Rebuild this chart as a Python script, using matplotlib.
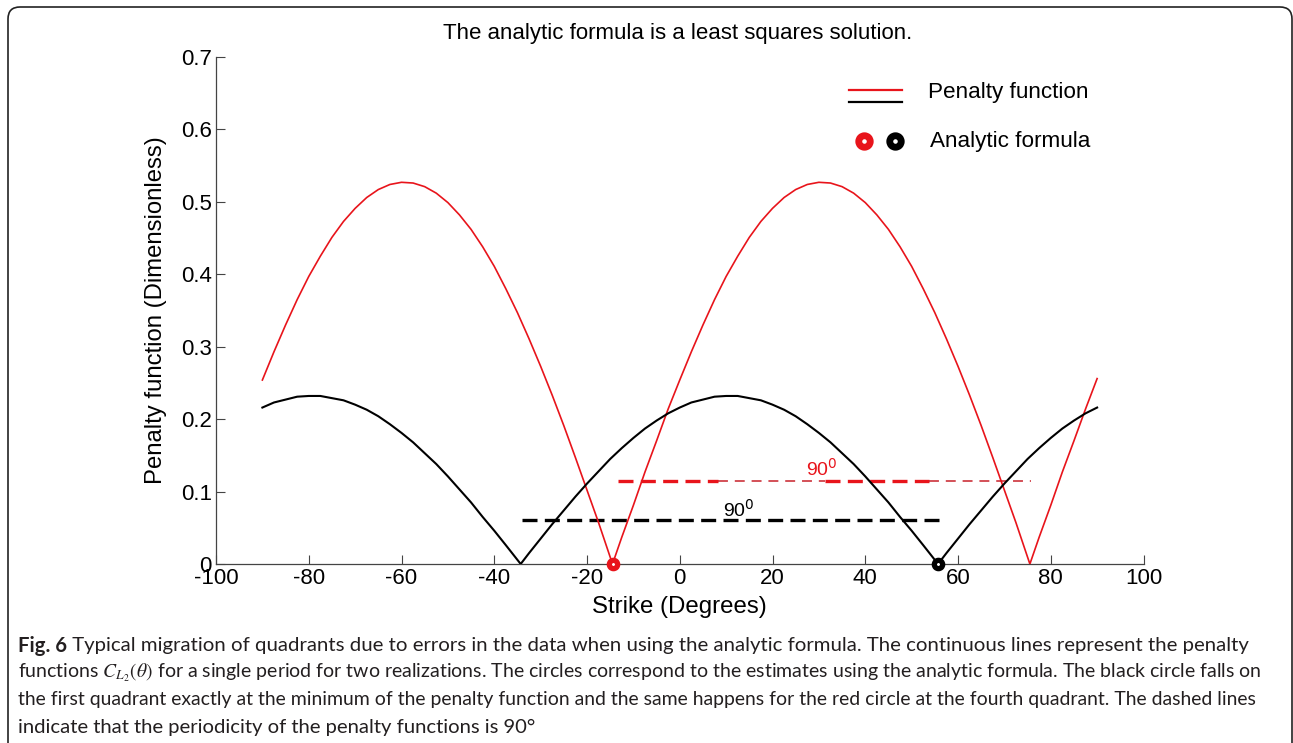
import matplotlib.pyplot as plt
from matplotlib.lines import Line2D
from matplotlib.patches import FancyBboxPatch
from matplotlib.transforms import IdentityTransform

# strike angle (degrees) and penalty values for the two realizations
strike_red = [-90, -87.5, -85, -82.5, -80, -77.5, -75, -72.5, -70, -67.5, -65, -62.5, -60,
              -57.5, -55, -52.5, -50, -47.5, -45, -42.5, -40, -37.5, -35, -32.5, -30, -27.5,
              -25, -22.5, -20, -17.5, -14.5, -12.5, -10, -7.5, -5, -2.5, 0, 2.5, 5, 7.5, 10,
              12.5, 15, 17.5, 20, 22.5, 25, 27.5, 30, 32.5, 35, 37.5, 40, 42.5, 45, 47.5, 50,
              52.5, 55, 57.5, 60, 62.5, 65, 67.5, 70, 72.5, 75.5, 77.5, 80, 82.5, 85, 87.5, 90]
penalty_red = [0.254, 0.293, 0.330, 0.365, 0.397, 0.425, 0.451, 0.473, 0.491, 0.506, 0.517,
               0.524, 0.527, 0.526, 0.521, 0.512, 0.499, 0.482, 0.462, 0.438, 0.411, 0.380,
               0.347, 0.311, 0.273, 0.233, 0.191, 0.147, 0.102, 0.057, 0.0, 0.037, 0.081,
               0.127, 0.170, 0.214, 0.254, 0.293, 0.330, 0.365, 0.397, 0.425, 0.451, 0.473,
               0.491, 0.506, 0.517, 0.524, 0.527, 0.526, 0.521, 0.512, 0.499, 0.482, 0.462,
               0.438, 0.411, 0.380, 0.347, 0.311, 0.273, 0.233, 0.191, 0.147, 0.102, 0.057,
               0.0, 0.037, 0.081, 0.127, 0.170, 0.214, 0.256]

strike_black = [-90, -87.5, -85, -82.5, -80, -77.5, -75, -72.5, -70, -67.5, -65, -62.5, -60,
                -57.5, -55, -52.5, -50, -47.5, -45, -42.5, -40, -37.5, -34.3, -32.5, -30,
                -27.5, -25, -22.5, -20, -17.5, -15, -12.5, -10, -7.5, -5, -2.5, 0, 2.5, 5,
                7.5, 10, 12.5, 15, 17.5, 20, 22.5, 25, 27.5, 30, 32.5, 35, 37.5, 40, 42.5, 45,
                47.5, 50, 52.5, 55.7, 57.5, 60, 62.5, 65, 67.5, 70, 72.5, 75, 77.5, 80, 82.5,
                85, 87.5, 90]
penalty_black = [0.216, 0.223, 0.227, 0.231, 0.232, 0.232, 0.229, 0.226, 0.220, 0.213, 0.204,
                 0.193, 0.181, 0.168, 0.153, 0.138, 0.121, 0.103, 0.085, 0.065, 0.046, 0.026,
                 0.0, 0.015, 0.035, 0.055, 0.074, 0.093, 0.111, 0.128, 0.145, 0.160, 0.174,
                 0.187, 0.198, 0.208, 0.216, 0.223, 0.227, 0.231, 0.232, 0.232, 0.229, 0.226,
                 0.220, 0.213, 0.204, 0.193, 0.181, 0.168, 0.153, 0.138, 0.121, 0.103, 0.085,
                 0.065, 0.046, 0.026, 0.0, 0.015, 0.035, 0.055, 0.074, 0.093, 0.111, 0.128,
                 0.145, 0.160, 0.174, 0.187, 0.198, 0.208, 0.216]

# analytic formula estimates
analytic_red = -14.5
analytic_black = 55.7

# 90 degree period markers: start, end, level
period_red = (-13.3, 75.8, 0.115)
period_black = (-34.1, 56.3, 0.061)

plt.rcParams['font.family'] = 'Liberation Sans'
plt.rcParams['axes.unicode_minus'] = False

fig = plt.figure(figsize=(12.93, 7.43), dpi=100)
ax = fig.add_axes([216 / 1293, 1 - 564 / 743, (1143.5 - 216) / 1293, (564 - 57) / 743])

ax.plot(strike_red, penalty_red, color='#e8141b', lw=1.2, zorder=3)
ax.plot(strike_black, penalty_black, color='black', lw=1.5, zorder=3)

# red period line alternates thick and thin dashes
x0, x1, yr = period_red
cuts = [x0, 8.3, 31.4, 53.8, x1]
for i in range(4):
    thick = i % 2 == 0
    ax.plot([cuts[i], cuts[i + 1]], [yr, yr], color='#e8141b' if thick else '#c8202a',
            lw=2.4 if thick else 1.1, dashes=(4.5, 2.2) if thick else (6.5, 4.5), zorder=2)
ax.plot(period_black[:2], [period_black[2]] * 2, color='black', lw=2.4,
        dashes=(4.5, 2.2), zorder=2)

ax.text(30.7, 0.131, r'90$^0$', color='#e8141b', fontsize=14, ha='center', va='center')
ax.text(12.7, 0.075, r'90$^0$', color='black', fontsize=14, ha='center', va='center')

ax.plot([analytic_red], [0], 'o', ms=6, mfc='white', mec='#e8141b', mew=3.8, zorder=5,
        clip_on=False)
ax.plot([analytic_black], [0], 'o', ms=6, mfc='white', mec='black', mew=3.8, zorder=5,
        clip_on=False)

ax.set_xlim(-100, 100)
ax.set_ylim(0, 0.7)
ax.set_xticks(range(-100, 101, 20))
ax.set_yticks([0, 0.1, 0.2, 0.3, 0.4, 0.5, 0.6, 0.7])
ax.set_yticklabels(['0', '0.1', '0.2', '0.3', '0.4', '0.5', '0.6', '0.7'])
ax.tick_params(direction='in', length=6.5, width=0.8, color='#444444', labelsize=16)
ax.tick_params(axis='x', pad=3)
ax.tick_params(axis='y', pad=3)
for side in ['top', 'right']:
    ax.spines[side].set_visible(False)
for side in ['left', 'bottom']:
    ax.spines[side].set_color('#444444')
    ax.spines[side].set_linewidth(0.9)

ax.set_xlabel('Strike (Degrees)', fontsize=17.3, labelpad=5)
ax.set_ylabel('Penalty function (Dimensionless)', fontsize=17.2, labelpad=10)
fig.text(678 / 1293, 1 - 33 / 743, 'The analytic formula is a least squares solution.',
         fontsize=16, ha='center', va='center')

# legend drawn by hand
ax.add_line(Line2D([0.683, 0.740], [0.934, 0.934], transform=ax.transAxes, color='#e8141b', lw=1.6))
ax.add_line(Line2D([0.683, 0.740], [0.911, 0.911], transform=ax.transAxes, color='black', lw=1.6))
ax.text(0.768, 0.929, 'Penalty function', transform=ax.transAxes, fontsize=16.2, va='center')
ax.plot([0.699], [0.834], 'o', transform=ax.transAxes, ms=8.3, mfc='white', mec='#e8141b', mew=4.9)
ax.plot([0.732], [0.834], 'o', transform=ax.transAxes, ms=8.3, mfc='white', mec='black', mew=4.9)
ax.text(0.770, 0.834, 'Analytic formula', transform=ax.transAxes, fontsize=16.2, va='center')

# caption, each line sized to its right edge
cap_font = 'Lato'
cap_size = 14.6
lines = [
    ' Typical migration of quadrants due to errors in the data when using the analytic formula. '
    'The continuous lines represent the penalty',
    r'functions $C_{L_2}(\theta)$ for a single period for two realizations. The circles correspond '
    'to the estimates using the analytic formula. The black circle falls on',
    'the first quadrant exactly at the minimum of the penalty function and the same happens for '
    'the red circle at the fourth quadrant. The dashed lines',
    'indicate that the periodicity of the penalty functions is 90\u00b0',
]
right_edges = [1244, 1256, 1250, None]
tb = fig.text(18 / 1293, 1 - 646 / 743, 'Fig. 6', family=cap_font, fontweight='bold',
              fontsize=cap_size, va='center', color='#231f20')
fig.canvas.draw()
x_start = [tb.get_window_extent().x1, 18, 18, 18]
for i, s in enumerate(lines):
    t = fig.text(x_start[i] / 1293, 1 - (646 + 27 * i) / 743, s, family=cap_font,
                 fontsize=cap_size, va='center', color='#231f20', math_fontfamily='stix')
    if right_edges[i] is not None:
        fig.canvas.draw()
        w = t.get_window_extent().width
        t.set_fontsize(cap_size * (right_edges[i] - x_start[i]) / w)

box = FancyBboxPatch((8, -30), 1284, 736 + 30, boxstyle='round,pad=0,rounding_size=12',
                     transform=IdentityTransform(), fill=False, ec='#222222', lw=1.2)
fig.patches.append(box)

fig.savefig('out.png', dpi=100)
